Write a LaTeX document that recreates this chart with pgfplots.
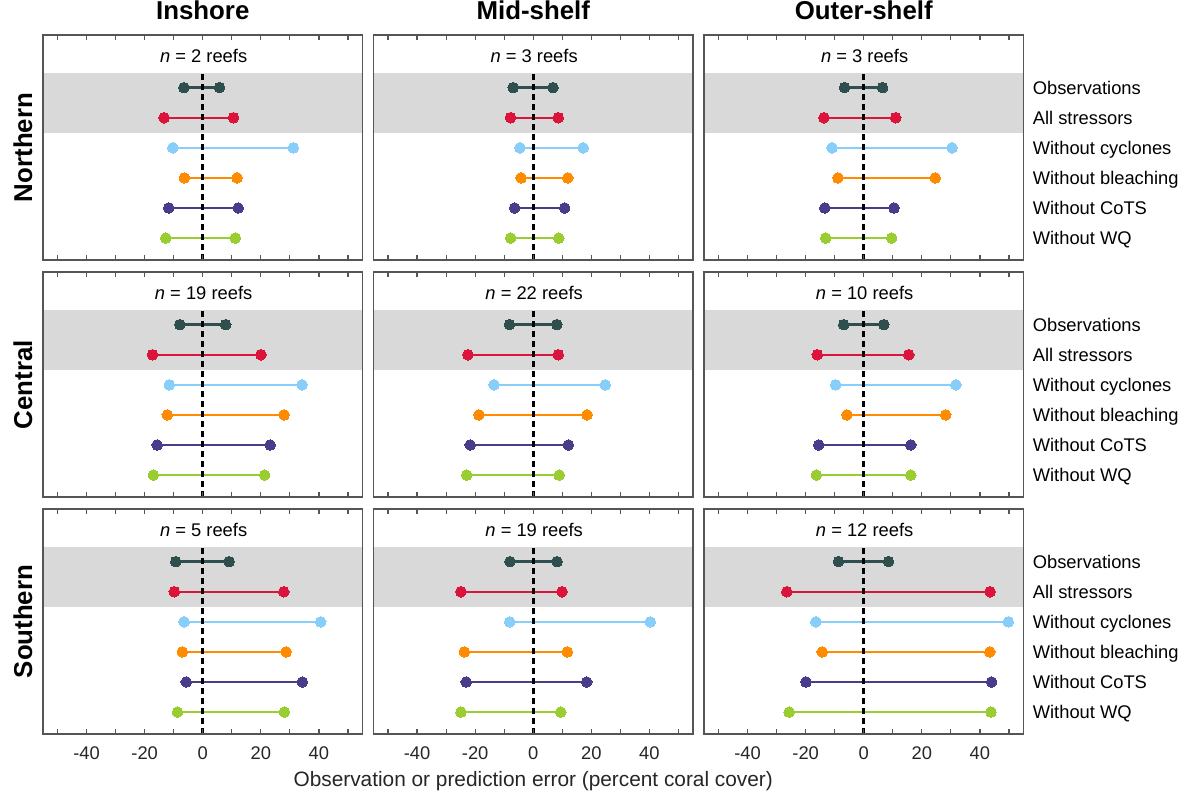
\documentclass[border=0pt]{standalone}
\usepackage{pgfplots}
\pgfplotsset{compat=1.18}
\usepackage{fontspec}
\setmainfont{Liberation Sans}

\definecolor{cobs}{HTML}{2F4F4F}
\definecolor{call}{HTML}{DC143C}
\definecolor{ccyc}{HTML}{87CEFA}
\definecolor{cble}{HTML}{FF8C00}
\definecolor{ccot}{HTML}{483D8B}
\definecolor{cwq}{HTML}{9ACD32}
\definecolor{bandgray}{HTML}{D9D9D9}
\definecolor{framegray}{HTML}{555555}

\newcommand\lab{\fontsize{11}{13}\selectfont}
\newcommand\bigbold{\bfseries\fontsize{15.5}{18}\selectfont}

\newcommand\seg[4]{\addplot[color=#1, line width=1.45pt, mark=*, mark size=3.2pt, mark options={solid, fill=#1, draw=#1, line width=0pt}] coordinates {(#2,#4) (#3,#4)};}
\newcommand\band{\addplot[draw=none, fill=bandgray] coordinates {(-55,4.5) (55,4.5) (55,6.5) (-55,6.5)};}
\newcommand\zero[1]{%
\addplot[black, line width=1.6pt, dash pattern=on 3.8pt off 2.2pt] coordinates {(0,0.27) (0,6.5)};
\node[anchor=base, font=\lab, inner sep=0pt] at (axis cs:0.3,6.82) {\textit{n} = #1};}

\pgfplotsset{
  panel/.style={
    scale only axis, width=191.7pt, height=135pt,
    anchor=north west,
    xmin=-55, xmax=55, ymin=0.27, ymax=7.75,
    xtick={-50,-40,...,50}, xticklabels={},
    ytick=\empty,
    axis line style={framegray, line width=0.8pt},
    x tick style={framegray, line width=0.7pt},
    y tick style={draw=none},
    major tick length=3pt,
    tick align=inside, xtick pos=both,
    axis on top,
  },
  bottomrow/.style={
    xticklabels={,-40,,-20,,0,,20,,40,},
    xticklabel style={font=\lab, text=black!85, anchor=base, inner sep=0pt, yshift=-15.4pt},
  },
  leftcol/.style={
    ylabel={#1},
    ylabel style={font=\bigbold, at={(axis description cs:-0.034,0.5)}, anchor=base, inner sep=0pt},
  },
  toprow/.style={
    title={#1},
    title style={font=\bigbold, at={(axis description cs:0.5,1)}, anchor=base, inner sep=0pt, yshift=3.5pt},
  },
  rightcol/.style={
    ytick={1,2,3,4,5,6},
    yticklabels={Without WQ, Without CoTS, Without bleaching, Without cyclones, All stressors, Observations},
    yticklabel pos=right, ytick pos=right,
    yticklabel style={font=\lab, anchor=west, inner sep=0pt, text height=7.9pt, text depth=0pt, xshift=5.4pt},
  },
}

\begin{document}
\begin{tikzpicture}
\useasboundingbox (0,0) rectangle (714pt,-477.6pt);

% ---------------- Northern ----------------
\begin{axis}[panel, at={(25.8pt,-21pt)}, leftcol=Northern, toprow=Inshore]
\band
\seg{cobs}{-6.5}{5.8}{6}
\seg{call}{-13.3}{10.6}{5}
\seg{ccyc}{-10.3}{31.2}{4}
\seg{cble}{-6.3}{11.8}{3}
\seg{ccot}{-11.7}{12.2}{2}
\seg{cwq}{-12.7}{11.2}{1}
\zero{2 reefs}
\end{axis}

\begin{axis}[panel, at={(224.1pt,-21pt)}, toprow=Mid-shelf]
\band
\seg{cobs}{-6.9}{6.8}{6}
\seg{call}{-7.8}{8.6}{5}
\seg{ccyc}{-4.6}{17.2}{4}
\seg{cble}{-4.2}{11.9}{3}
\seg{ccot}{-6.4}{10.8}{2}
\seg{cwq}{-7.8}{8.8}{1}
\zero{3 reefs}
\end{axis}

\begin{axis}[panel, at={(422.4pt,-21pt)}, toprow=Outer-shelf, rightcol]
\band
\seg{cobs}{-6.6}{6.5}{6}
\seg{call}{-13.7}{11.0}{5}
\seg{ccyc}{-10.9}{30.4}{4}
\seg{cble}{-8.9}{24.6}{3}
\seg{ccot}{-13.4}{10.4}{2}
\seg{cwq}{-13.1}{9.6}{1}
\zero{3 reefs}
\end{axis}

% ---------------- Central ----------------
\begin{axis}[panel, at={(25.8pt,-163.2pt)}, leftcol=Central]
\band
\seg{cobs}{-7.9}{7.9}{6}
\seg{call}{-17.3}{20.0}{5}
\seg{ccyc}{-11.5}{34.2}{4}
\seg{cble}{-12.2}{28.0}{3}
\seg{ccot}{-15.7}{23.2}{2}
\seg{cwq}{-17.0}{21.3}{1}
\zero{19 reefs}
\end{axis}

\begin{axis}[panel, at={(224.1pt,-163.2pt)}]
\band
\seg{cobs}{-8.2}{8.1}{6}
\seg{call}{-22.5}{8.6}{5}
\seg{ccyc}{-13.5}{24.8}{4}
\seg{cble}{-18.7}{18.5}{3}
\seg{ccot}{-21.7}{12.1}{2}
\seg{cwq}{-22.9}{8.9}{1}
\zero{22 reefs}
\end{axis}

\begin{axis}[panel, at={(422.4pt,-163.2pt)}, rightcol]
\band
\seg{cobs}{-6.9}{6.9}{6}
\seg{call}{-16.0}{15.5}{5}
\seg{ccyc}{-9.7}{31.7}{4}
\seg{cble}{-5.8}{28.2}{3}
\seg{ccot}{-15.5}{16.2}{2}
\seg{cwq}{-16.3}{16.2}{1}
\zero{10 reefs}
\end{axis}

% ---------------- Southern ----------------
\begin{axis}[panel, bottomrow, at={(25.8pt,-305.4pt)}, leftcol=Southern]
\band
\seg{cobs}{-9.3}{9.1}{6}
\seg{call}{-9.8}{27.9}{5}
\seg{ccyc}{-6.4}{40.6}{4}
\seg{cble}{-7.0}{28.7}{3}
\seg{ccot}{-5.7}{34.3}{2}
\seg{cwq}{-8.7}{28.1}{1}
\zero{5 reefs}
\end{axis}

\begin{axis}[panel, bottomrow, at={(224.1pt,-305.4pt)},
  xlabel={Observation or prediction error (percent coral cover)},
  xlabel style={font=\fontsize{12.5}{15}\selectfont, text=black!85, at={(axis description cs:0.5,0)}, anchor=base, inner sep=0pt, yshift=-31.2pt}]
\band
\seg{cobs}{-8.0}{8.2}{6}
\seg{call}{-24.9}{9.9}{5}
\seg{ccyc}{-8.1}{40.3}{4}
\seg{cble}{-23.7}{11.7}{3}
\seg{ccot}{-23.1}{18.4}{2}
\seg{cwq}{-24.9}{9.5}{1}
\zero{19 reefs}
\end{axis}

\begin{axis}[panel, bottomrow, at={(422.4pt,-305.4pt)}, rightcol]
\band
\seg{cobs}{-8.7}{8.5}{6}
\seg{call}{-26.5}{43.5}{5}
\seg{ccyc}{-16.5}{49.8}{4}
\seg{cble}{-14.3}{43.4}{3}
\seg{ccot}{-19.9}{44.0}{2}
\seg{cwq}{-25.7}{43.8}{1}
\zero{12 reefs}
\end{axis}

\end{tikzpicture}
\end{document}
